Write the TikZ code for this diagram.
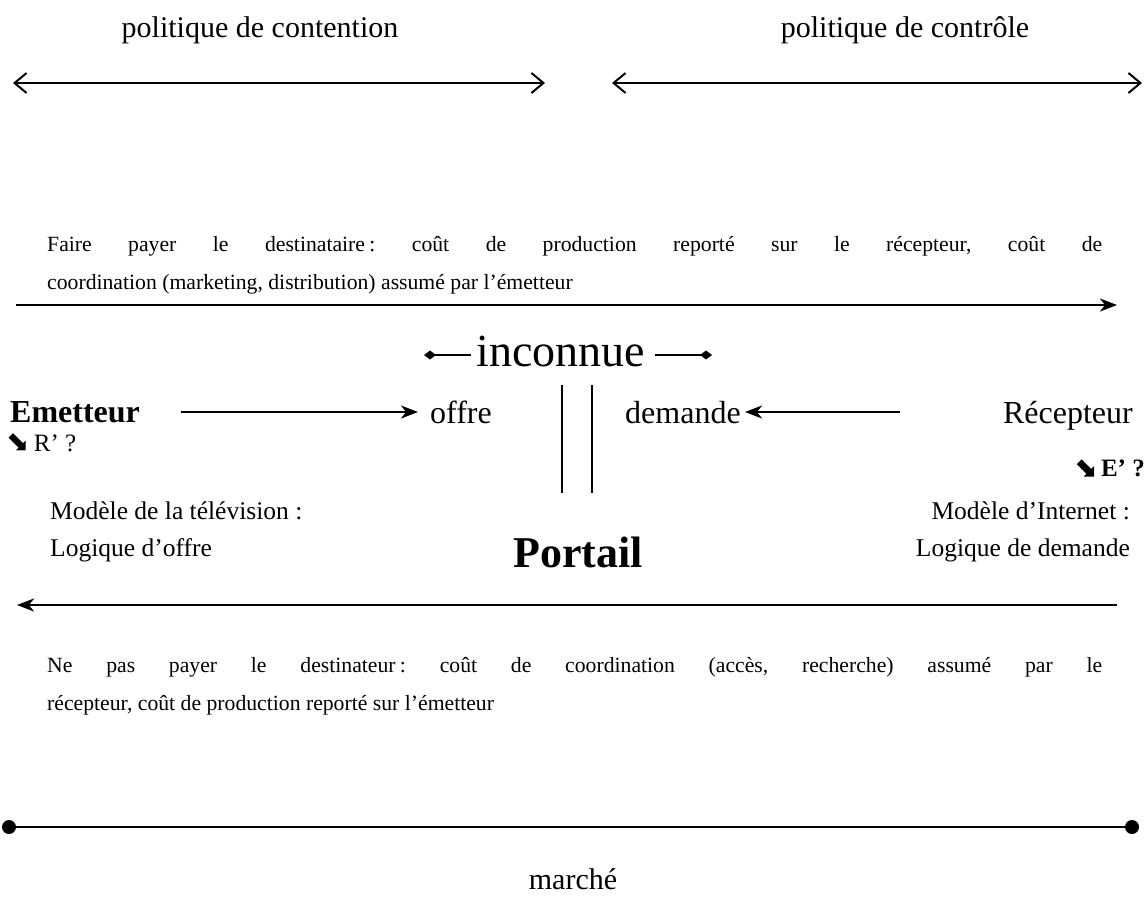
\documentclass[tikz,border=0pt]{standalone}
\usepackage{fontspec}
\setmainfont{Liberation Serif}
\newfontfamily\symfont{DejaVu Sans}
\usetikzlibrary{arrows.meta}
\tikzset{
  lbl/.style={inner sep=0pt, anchor=base},
  para/.style={inner sep=0pt, anchor=base west, text width=1055pt, align=justify, font=\fontsize{21.7}{38}\selectfont\frenchspacing},
  big/.style={lbl, font=\fontsize{30}{36}\selectfont},
  mid/.style={lbl, font=\fontsize{32}{38}\selectfont},
  modl/.style={inner sep=0pt, font=\fontsize{25.5}{37}\selectfont},
  ln/.style={line width=2pt},
  openarr/.style={ln, {Straight Barb[length=12pt,width=20pt,line width=2pt]}-{Straight Barb[length=12pt,width=20pt,line width=2pt]}},
  fill arr/.style={ln, -{Stealth[length=17pt,width=13pt,inset=5pt]}},
  diam/.style={ln, -{Turned Square[length=12pt,width=9pt]}},
  dot/.style={circle, fill=black, inner sep=0pt, minimum size=14pt}
}
\newcommand{\searr}{{\symfont\fontsize{28}{30}\selectfont ⬊}}
\begin{document}
\begin{tikzpicture}[x=1pt,y=-1pt]
\useasboundingbox (0,0) rectangle (1148,900);
% top labels and arrows
\node[big] (pcont) at (260,37) {politique de contention};
\node[big] (pctrl) at (905,37) {politique de contrôle};
\coordinate (a1) at (13,83); \coordinate (a2) at (545,83);
\coordinate (b1) at (612,83); \coordinate (b2) at (1142,83);
\draw[openarr] (a1) -- (a2);
\draw[openarr] (b1) -- (b2);
% paragraph 1
\node[para] (p1) at (47,251) {Faire payer le destinataire\hspace{0.2em}: coût de production reporté sur le récepteur, coût de\break coordination (marketing, distribution) assumé par l’émetteur};
\coordinate (c1) at (16,305); \coordinate (c2) at (1117,305);
\draw[fill arr] (c1) -- (c2);
% inconnue
\node[lbl, font=\fontsize{46}{52}\selectfont] (inc) at (561,366) {inconnue};
\coordinate (d1) at (471,355); \coordinate (d2) at (424,355);
\coordinate (e1) at (655,355); \coordinate (e2) at (712,355);
\draw[diam] (d1) -- (d2);
\draw[diam] (e1) -- (e2);
% vertical lines
\coordinate (v1t) at (562,385); \coordinate (v1b) at (562,493);
\coordinate (v2t) at (592,385); \coordinate (v2b) at (592,493);
\draw[ln] (v1t) -- (v1b);
\draw[ln] (v2t) -- (v2b);
% middle row
\node[mid, anchor=base west, font=\bfseries\fontsize{32}{38}\selectfont] (em) at (10,422) {Emetteur};
\node[mid, anchor=base west] (of) at (430,423) {offre};
\node[mid, anchor=base west] (dem) at (625,423) {demande};
\node[mid, anchor=base east] (rec) at (1133,423) {Récepteur};
\coordinate (f1) at (181,412); \coordinate (f2) at (418,412);
\coordinate (g1) at (900,412); \coordinate (g2) at (745,412);
\draw[fill arr] (f1) -- (f2);
\draw[fill arr] (g1) -- (g2);
\node[lbl, anchor=base west, font=\fontsize{25}{30}\selectfont] (rp) at (6,451) {\searr\,R’ ?};
\node[lbl, anchor=base east, font=\bfseries\fontsize{25}{30}\selectfont] (ep) at (1145,476) {\searr\,E’ ?};
% models
\node[modl, lbl, anchor=base west] (tv1) at (50,519) {Modèle de la télévision :};
\node[modl, lbl, anchor=base west] (tv2) at (50,556) {Logique d’offre};
\node[modl, lbl, anchor=base east] (in1) at (1130,519) {Modèle d’Internet :};
\node[modl, lbl, anchor=base east] (in2) at (1130,556) {Logique de demande};
\node[lbl, font=\bfseries\fontsize{44}{48}\selectfont] (port) at (578,567) {Portail};
% bottom arrow
\coordinate (h1) at (1117,605); \coordinate (h2) at (17,605);
\draw[fill arr] (h1) -- (h2);
\node[para] (p2) at (47,672) {Ne pas payer le destinateur\hspace{0.2em}: coût de coordination (accès, recherche) assumé par le\break récepteur, coût de production reporté sur l’émetteur};
% market line
\node[dot] (m1) at (9,827) {};
\node[dot] (m2) at (1132,827) {};
\draw[ln] (m1) -- (m2);
\node[big] (mar) at (573,889) {marché};
\end{tikzpicture}
\end{document}
